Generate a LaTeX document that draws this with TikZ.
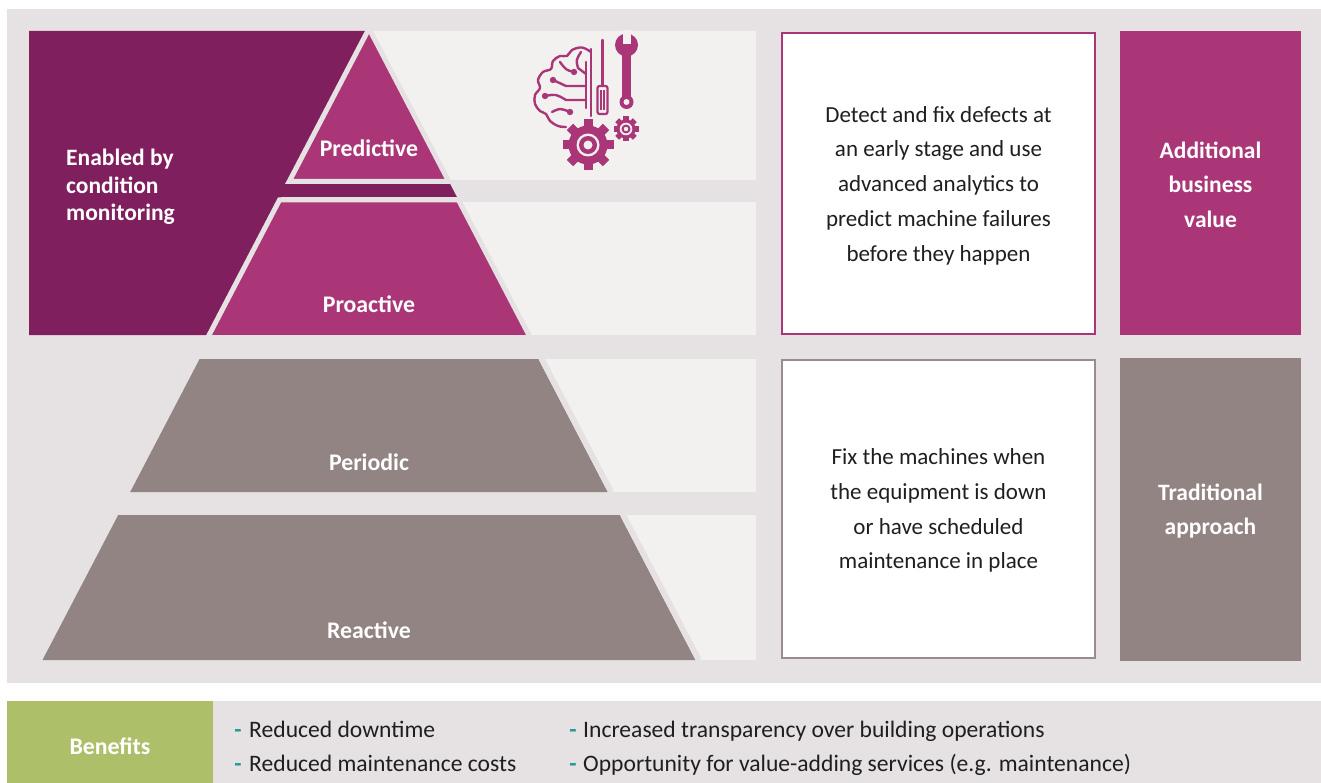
\documentclass[tikz,border=0pt]{standalone}
\usepackage{fontspec}
\setmainfont{Carlito}
\definecolor{bgc}{HTML}{E6E2E3}
\definecolor{rowc}{HTML}{F2F1F0}
\definecolor{dpurp}{HTML}{7F1F5E}
\definecolor{magen}{HTML}{AA3678}
\definecolor{taupe}{HTML}{928483}
\definecolor{greenc}{HTML}{AEBF6A}
\definecolor{tealc}{HTML}{1F9A94}
\definecolor{boxgray}{HTML}{9A8C8C}
\begin{document}
\begin{tikzpicture}[x=1pt,y=-1pt,
  lbl/.style={text=white, font=\bfseries\fontsize{23.5}{34.5}\selectfont, align=center, inner sep=0pt},
  pyrlbl/.style={text=white, font=\bfseries\fontsize{23.8}{26}\selectfont, inner sep=0pt},
  desc/.style={text=black!88, font=\fontsize{23}{34.8}\selectfont, align=center, inner sep=0pt},
  item/.style={text=black!88, font=\fontsize{23.6}{26}\selectfont, anchor=base west, inner sep=0pt},
  dashmark/.style={text=tealc, font=\bfseries\fontsize{23.6}{26}\selectfont, anchor=base, inner sep=0pt},
  sepline/.style={draw=bgc, line width=5pt, line join=miter},
  descbox/.style={fill=white, line width=2pt, minimum width=313pt, inner sep=0pt},
  icon/.style={draw=magen, line width=2.4pt, line cap=round, line join=round}]
\useasboundingbox (0,0) rectangle (1321,783);
\fill[white] (0,0) rectangle (1321,783);
\fill[bgc] (7,9) rectangle (1321,683);
% dark purple region
\fill[dpurp] (29,31) -- (370.3,31) -- (456.9,197) -- (281.1,197) -- (209,335) -- (29,335) -- cycle;
% light rows
\fill[rowc] (370.3,31) -- (756,31) -- (756,180) -- (448,180) -- cycle;
\fill[rowc] (459.5,202) -- (756,202) -- (756,335) -- (529,335) -- cycle;
\fill[rowc] (541.7,359) -- (756,359) -- (756,492) -- (611.1,492) -- cycle;
\fill[rowc] (623.1,515) -- (756,515) -- (756,660) -- (698.8,660) -- cycle;
% upper pyramid
\filldraw[fill=magen, sepline] (369,28.6) -- (448.7,181.3) -- (289.3,181.3) -- cycle;
\filldraw[fill=magen, sepline] (279.6,199.8) -- (458.4,199.8) -- (530.2,337.5) -- (207.8,337.5) -- cycle;
% lower pyramid
\fill[taupe] (199.6,359) -- (538.4,359) -- (607.8,492) -- (130.2,492) -- cycle;
\fill[taupe] (118.2,515) -- (619.8,515) -- (695.5,660) -- (42.5,660) -- cycle;
\draw[draw=bgc, line width=5.8pt] (541.7,359) -- (611.1,492);
\draw[draw=bgc, line width=5.8pt] (623.1,515) -- (698.8,660);
% pyramid labels
\node[pyrlbl] (pred) at (369,148) {Predictive};
\node[pyrlbl] (proa) at (369,304) {Proactive};
\node[pyrlbl] (peri) at (369,462) {Periodic};
\node[pyrlbl] (reac) at (369,630) {Reactive};
\node[text=white, font=\bfseries\fontsize{23.5}{27.5}\selectfont, align=left, anchor=west, inner sep=0pt] (enab) at (66,187) {Enabled by\\condition\\monitoring};
% description boxes
\node[descbox, draw=magen, minimum height=301pt] (d1) at (938.5,183.3) {};
\node[desc] (d1t) at (938.5,185.5) {Detect and fix defects at\\an early stage and use\\advanced analytics to\\predict machine failures\\before they happen};
\node[descbox, draw=boxgray, minimum height=298pt] (d2) at (938.5,509) {};
\node[desc] (d2t) at (938.5,510.5) {Fix the machines when\\the equipment is down\\or have scheduled\\maintenance in place};
% label boxes
\node[fill=magen, minimum width=181pt, minimum height=304pt, inner sep=0pt] (l1) at (1210.5,183) {};
\node[lbl] (l1t) at (1210.5,184.5) {Additional\\business\\value};
\node[fill=taupe, minimum width=181pt, minimum height=303pt, inner sep=0pt] (l2) at (1210.5,509.5) {};
\node[lbl] (l2t) at (1210.5,511) {Traditional\\approach};
% icon: brain
\draw[icon] plot[smooth, tension=0.6] coordinates {(591,52) (582,47.5) (572,50) (567,56) (560,56) (553,61) (551,69) (543,72) (538,80) (540,88) (535,95) (535,104) (540,111) (546,114) (550,121) (558,126) (566,127)};
\draw[icon] (591,49) -- (591,116);
\draw[icon] (586,62) -- (586,108);
\draw[icon] (581,52) .. controls (576,60) .. (578,68) -- (586,74);
\draw[icon] (560,62) .. controls (566,70) .. (574,72);
\draw[icon] (553,80) -- (566,86) -- (586,86);
\draw[icon] (545,96) .. controls (556,94) .. (566,100) -- (586,100);
\draw[icon] (552,112) .. controls (560,108) .. (570,112);
\fill[magen] (574,72) circle (3.2);
\fill[magen] (553,80) circle (3.2);
\fill[magen] (545,96) circle (3.2);
\fill[magen] (570,112) circle (3.2);
% screwdriver
\draw[icon] (602.5,40) -- (602.5,86);
\draw[magen, line width=2.2pt, rounded corners=2pt] (597.5,86) rectangle (607.5,114);
\draw[magen, line width=1.8pt] (601,90) -- (601,110) (604,90) -- (604,110);
% wrench
\fill[magen] (626.5,45) circle (11.5);
\fill[rowc] (622.5,30) rectangle (630.5,44);
\fill[magen] (622,50) rectangle (631,100);
\fill[magen] (626.5,102) circle (7);
\fill[rowc] (626.5,102) circle (3);
% big gear
\foreach \a in {0,45,...,315} {\fill[magen, rotate around={\a:(588,145)}] (583.5,119.5) rectangle (592.5,130);}
\fill[magen] (588,145) circle (19.5);
\fill[rowc] (588,145) circle (11.5);
\fill[magen] (588,145) circle (9);
\fill[rowc] (588,145) circle (4.5);
% small gear
\foreach \a in {0,45,...,315} {\fill[magen, rotate around={\a:(626,129)}] (623.3,116.5) rectangle (628.7,122);}
\fill[magen] (626,129) circle (9.5);
\fill[rowc] (626,129) circle (6.3);
\fill[magen] (626,129) circle (4.5);
\fill[rowc] (626,129) circle (2.2);
% benefits
\fill[greenc] (7,701) rectangle (213,783);
\fill[bgc] (213,701) rectangle (1321,783);
\node[pyrlbl] (ben) at (110,746) {Benefits};
\node[dashmark] (m1) at (238,737) {-};
\node[dashmark] (m2) at (238,771) {-};
\node[dashmark] (m3) at (573,737) {-};
\node[dashmark] (m4) at (573,771) {-};
\node[item] (b1) at (249,737) {Reduced downtime};
\node[item] (b2) at (249,771) {Reduced maintenance costs};
\node[item] (b3) at (583,737) {Increased transparency over building operations};
\node[item] (b4) at (583,771) {Opportunity for value-adding services (e.g. maintenance)};
\end{tikzpicture}
\end{document}
